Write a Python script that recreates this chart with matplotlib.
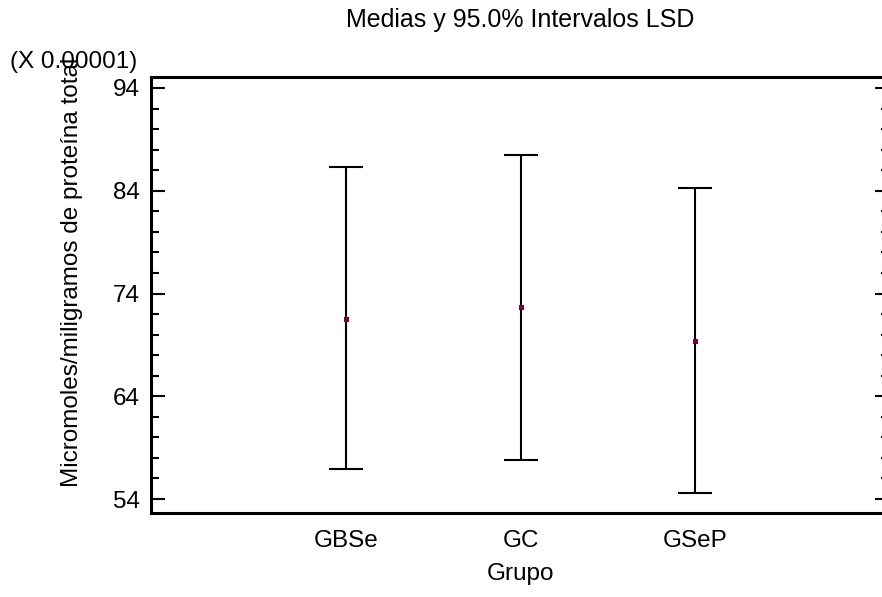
import matplotlib
matplotlib.use("Agg")
import matplotlib.pyplot as plt
from matplotlib.ticker import MultipleLocator

plt.rcParams['font.family'] = ['Liberation Sans', 'DejaVu Sans']

# LSD means and 95% interval limits (units of 1e-5)
groups = ["GBSe", "GC", "GSeP"]
means = [71.5, 72.7, 69.4]
lower = [56.9, 57.8, 54.6]
upper = [86.3, 87.5, 84.3]
yticks = [54, 64, 74, 84, 94]

W, H = 882, 597
FS = 17.5
fig = plt.figure(figsize=(W / 100, H / 100), dpi=100)
ax_left, ax_right, ax_bottom, ax_top = 151, 889, 513, 77
ax = fig.add_axes([ax_left / W, (H - ax_bottom) / H,
                   (ax_right - ax_left) / W, (ax_bottom - ax_top) / H])

x = list(range(1, len(groups) + 1))
yerr = [[m - lo for m, lo in zip(means, lower)],
        [hi - m for m, hi in zip(means, upper)]]
ax.errorbar(x, means, yerr=yerr, fmt='none', ecolor='black',
            elinewidth=1.5, capsize=12, capthick=1.5, zorder=2)
ax.plot(x, means, linestyle='none', marker='s', markersize=3.6,
        color='#7a0038', markeredgewidth=0, zorder=3)

ax.set_xlim(1 - 195 / 174.5, 3 + 194 / 174.5)
ax.set_ylim(52.64, 95.07)
ax.set_xticks(x)
ax.set_xticklabels(groups, fontsize=FS)
ax.tick_params(axis='x', length=0, pad=12)

ax.set_yticks(yticks)
ax.yaxis.set_minor_locator(MultipleLocator(2))
ax.tick_params(axis='y', which='major', direction='in', length=10, width=1.5,
               labelsize=FS, right=True, pad=8)
ax.tick_params(axis='y', which='minor', direction='in', length=5.8, width=1.5,
               right=True)

for s in ax.spines.values():
    s.set_linewidth(2.2)

ax.set_xlabel("Grupo", fontsize=FS, labelpad=8)
fig.text(72 / W, 1 - 272 / H, "Micromoles/miligramos de proteína total",
         rotation=90, ha='center', va='center', fontsize=FS)
fig.text(520 / W, 1 - 27 / H, "Medias y 95.0% Intervalos LSD",
         ha='center', va='baseline', fontsize=18)
fig.text(10 / W, 1 - 62 / H, "(X 0.00001)", ha='left', va='center',
         fontsize=FS)

fig.savefig("out.png", dpi=100)
